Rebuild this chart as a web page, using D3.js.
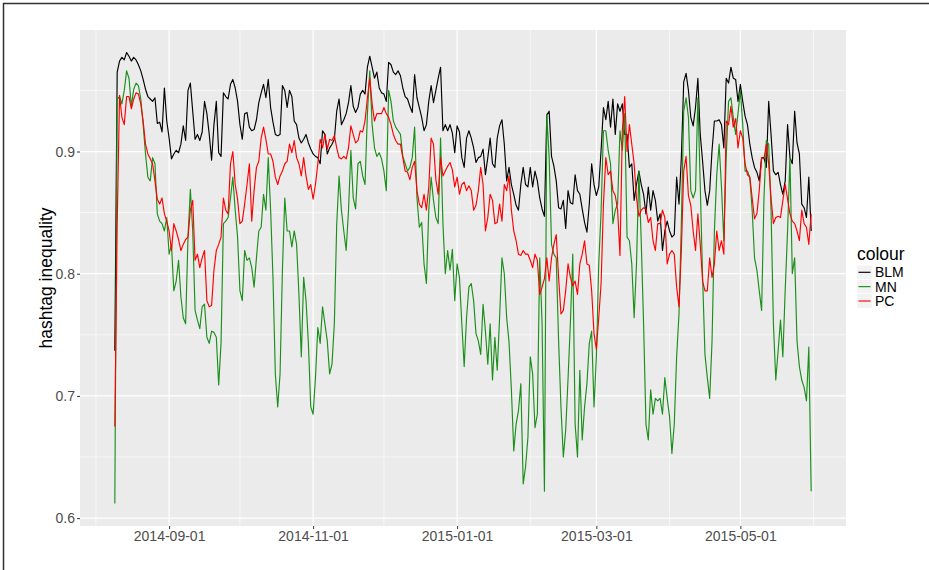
<!DOCTYPE html>
<html>
<head>
<meta charset="utf-8">
<script src="https://cdn.jsdelivr.net/npm/d3@7"></script>
<style>
  body { margin: 0; background: #fff; }
  svg { display: block; font-family: "Liberation Sans", Arial, sans-serif; }
</style>
</head>
<body>
<div id="chart"></div>
<script>
// daily values, first day below
const startDay = "2014-08-09";
const seriesNames = ["BLM", "MN", "PC"];
const seriesColors = ["#000000", "#1a8f1a", "#ff0000"];

const blm = [
  0.737,0.965,0.974,0.977,0.975,0.981,0.978,0.974,0.977,0.975,
  0.971,0.966,0.959,0.951,0.945,0.943,0.941,0.944,0.923,0.924,
  0.916,0.952,0.925,0.911,0.894,0.898,0.901,0.899,0.906,0.921,
  0.909,0.950,0.956,0.933,0.910,0.914,0.909,0.916,0.941,0.931,
  0.914,0.893,0.922,0.941,0.899,0.896,0.948,0.945,0.943,0.955,
  0.959,0.952,0.941,0.922,0.910,0.931,0.932,0.920,0.917,0.918,
  0.926,0.940,0.948,0.955,0.944,0.959,0.936,0.924,0.914,0.913,
  0.914,0.954,0.950,0.936,0.950,0.945,0.925,0.922,0.911,0.907,
  0.910,0.914,0.907,0.902,0.898,0.896,0.895,0.890,0.917,0.914,
  0.898,0.903,0.906,0.910,0.933,0.943,0.922,0.926,0.931,0.940,
  0.954,0.937,0.932,0.936,0.947,0.950,0.947,0.969,0.978,0.969,
  0.960,0.965,0.952,0.948,0.947,0.941,0.973,0.971,0.965,0.963,
  0.966,0.962,0.952,0.945,0.943,0.937,0.932,0.963,0.944,0.936,
  0.928,0.917,0.922,0.941,0.954,0.940,0.950,0.960,0.969,0.917,
  0.922,0.917,0.922,0.915,0.899,0.921,0.916,0.895,0.887,0.911,
  0.917,0.911,0.903,0.891,0.895,0.896,0.902,0.881,0.895,0.911,
  0.890,0.887,0.911,0.921,0.926,0.906,0.876,0.887,0.873,0.865,
  0.856,0.852,0.873,0.887,0.873,0.871,0.887,0.871,0.884,0.876,
  0.862,0.853,0.847,0.930,0.933,0.896,0.888,0.876,0.854,0.853,
  0.860,0.837,0.868,0.858,0.857,0.881,0.868,0.865,0.853,0.842,
  0.834,0.857,0.890,0.873,0.864,0.871,0.901,0.936,0.926,0.941,
  0.920,0.943,0.914,0.939,0.933,0.939,0.914,0.914,0.887,0.890,
  0.860,0.873,0.884,0.873,0.865,0.849,0.871,0.852,0.868,0.860,
  0.843,0.849,0.819,0.835,0.843,0.835,0.830,0.832,0.879,0.857,
  0.895,0.957,0.964,0.950,0.928,0.921,0.936,0.960,0.914,0.892,
  0.868,0.856,0.868,0.901,0.925,0.925,0.926,0.922,0.903,0.960,
  0.956,0.969,0.960,0.959,0.941,0.955,0.941,0.929,0.922,0.906,
  0.895,0.887,0.883,0.876,0.895,0.895,0.887,0.941,0.914,0.884,
  0.881,0.883,0.873,0.865,0.876,0.922,0.895,0.890,0.933,0.907,
  0.898,0.857,0.854,0.846,0.879,0.835
];

const mn = [
  0.612,0.943,0.945,0.939,0.950,0.966,0.960,0.937,0.951,0.956,
  0.954,0.943,0.922,0.898,0.879,0.876,0.895,0.890,0.849,0.843,
  0.841,0.835,0.846,0.816,0.824,0.786,0.794,0.811,0.781,0.764,
  0.759,0.830,0.869,0.835,0.770,0.762,0.755,0.773,0.775,0.748,
  0.743,0.753,0.752,0.748,0.709,0.743,0.841,0.843,0.846,0.862,
  0.879,0.852,0.830,0.786,0.778,0.819,0.811,0.813,0.805,0.789,
  0.813,0.835,0.838,0.865,0.852,0.895,0.852,0.797,0.718,0.691,
  0.718,0.803,0.862,0.835,0.835,0.822,0.835,0.824,0.783,0.732,
  0.797,0.778,0.743,0.691,0.685,0.715,0.756,0.743,0.773,0.759,
  0.745,0.718,0.726,0.759,0.840,0.880,0.852,0.835,0.819,0.852,
  0.901,0.862,0.853,0.890,0.892,0.880,0.873,0.931,0.966,0.922,
  0.903,0.896,0.899,0.894,0.884,0.868,0.950,0.941,0.925,0.920,
  0.917,0.914,0.896,0.890,0.884,0.887,0.895,0.920,0.862,0.838,
  0.842,0.808,0.792,0.852,0.879,0.860,0.846,0.841,0.911,0.841,
  0.800,0.819,0.803,0.820,0.778,0.808,0.797,0.759,0.724,0.764,
  0.789,0.792,0.778,0.751,0.745,0.734,0.775,0.753,0.726,0.759,
  0.713,0.748,0.721,0.764,0.813,0.800,0.764,0.744,0.705,0.655,
  0.677,0.688,0.710,0.628,0.642,0.666,0.732,0.718,0.674,0.685,
  0.813,0.759,0.622,0.930,0.895,0.824,0.816,0.813,0.745,0.691,
  0.650,0.672,0.714,0.760,0.816,0.677,0.650,0.721,0.664,0.691,
  0.710,0.743,0.753,0.691,0.732,0.808,0.851,0.917,0.917,0.901,
  0.890,0.841,0.852,0.857,0.917,0.901,0.931,0.830,0.827,0.808,
  0.764,0.808,0.884,0.827,0.759,0.677,0.664,0.705,0.685,0.698,
  0.696,0.698,0.685,0.715,0.698,0.683,0.653,0.677,0.732,0.767,
  0.841,0.933,0.944,0.928,0.868,0.862,0.868,0.944,0.873,0.797,
  0.734,0.715,0.698,0.745,0.835,0.881,0.906,0.871,0.827,0.895,
  0.941,0.944,0.928,0.914,0.931,0.950,0.922,0.884,0.884,0.879,
  0.852,0.813,0.803,0.786,0.770,0.862,0.909,0.906,0.852,0.759,
  0.713,0.737,0.762,0.732,0.787,0.835,0.895,0.800,0.813,0.745,
  0.724,0.713,0.707,0.696,0.740,0.622
];

const pc = [
  0.675,0.840,0.946,0.928,0.922,0.945,0.945,0.935,0.943,0.948,
  0.947,0.939,0.925,0.906,0.898,0.894,0.890,0.876,0.861,0.857,
  0.862,0.849,0.843,0.835,0.819,0.841,0.835,0.828,0.819,0.824,
  0.828,0.830,0.852,0.860,0.811,0.816,0.805,0.813,0.819,0.778,
  0.773,0.774,0.803,0.819,0.824,0.830,0.862,0.852,0.849,0.890,
  0.900,0.873,0.861,0.841,0.843,0.857,0.873,0.890,0.843,0.868,
  0.887,0.892,0.911,0.920,0.910,0.898,0.898,0.892,0.879,0.873,
  0.880,0.884,0.890,0.892,0.906,0.899,0.909,0.895,0.890,0.880,
  0.895,0.880,0.869,0.873,0.861,0.873,0.890,0.910,0.903,0.914,
  0.902,0.910,0.909,0.913,0.903,0.895,0.894,0.896,0.894,0.903,
  0.921,0.914,0.907,0.909,0.917,0.916,0.925,0.944,0.960,0.939,
  0.925,0.931,0.931,0.931,0.936,0.931,0.928,0.922,0.914,0.909,
  0.906,0.906,0.895,0.884,0.883,0.877,0.887,0.892,0.868,0.857,
  0.854,0.865,0.852,0.871,0.911,0.906,0.877,0.865,0.895,0.880,
  0.884,0.888,0.891,0.885,0.871,0.879,0.865,0.873,0.875,0.868,
  0.872,0.868,0.852,0.856,0.868,0.887,0.873,0.835,0.846,0.865,
  0.860,0.841,0.842,0.857,0.843,0.873,0.868,0.880,0.852,0.835,
  0.827,0.816,0.815,0.819,0.816,0.816,0.811,0.805,0.816,0.811,
  0.783,0.789,0.796,0.813,0.794,0.813,0.824,0.832,0.797,0.767,
  0.770,0.786,0.808,0.797,0.790,0.794,0.783,0.808,0.816,0.827,
  0.808,0.807,0.786,0.751,0.738,0.764,0.792,0.857,0.895,0.881,
  0.884,0.868,0.864,0.852,0.815,0.917,0.945,0.900,0.922,0.906,
  0.890,0.862,0.847,0.852,0.854,0.853,0.842,0.846,0.827,0.819,
  0.841,0.841,0.852,0.846,0.808,0.816,0.819,0.816,0.789,0.773,
  0.819,0.884,0.896,0.864,0.856,0.835,0.819,0.849,0.824,0.794,
  0.786,0.786,0.813,0.797,0.808,0.835,0.819,0.827,0.816,0.925,
  0.922,0.937,0.920,0.927,0.903,0.917,0.911,0.890,0.881,0.879,
  0.862,0.845,0.849,0.868,0.895,0.894,0.906,0.890,0.862,0.841,
  0.846,0.847,0.846,0.860,0.873,0.861,0.849,0.843,0.841,0.835,
  0.827,0.852,0.841,0.838,0.824,0.849
];

const xTickLabels = ["2014-09-01", "2014-11-01", "2015-01-01", "2015-03-01", "2015-05-01"];
const xMinorBreaks = ["2014-08-01", "2014-10-01", "2014-12-01", "2015-02-01", "2015-04-01", "2015-06-01"];
const yTicks = [0.6, 0.7, 0.8, 0.9];
const yMinorBreaks = [0.65, 0.75, 0.85, 0.95];

(function() {
  const W = 929, H = 570;
  const panel = {left: 80, top: 30, right: 846, bottom: 526};
  const pw = panel.right - panel.left,
        ph = panel.bottom - panel.top;

  const parse = d3.timeParse("%Y-%m-%d");
  const t0 = parse(startDay);
  const dates = blm.map((_, i) => d3.timeDay.offset(t0, i));

  // ggplot style 5% expansion
  const xExt = d3.extent(dates);
  const xPad = (xExt[1] - xExt[0]) * 0.05;
  const x = d3.scaleTime()
    .domain([new Date(+xExt[0] - xPad), new Date(+xExt[1] + xPad)])
    .range([0, pw]);

  const yExt = d3.extent(blm.concat(mn, pc));
  const yPad = (yExt[1] - yExt[0]) * 0.05;
  const y = d3.scaleLinear()
    .domain([yExt[0] - yPad, yExt[1] + yPad])
    .range([ph, 0]);

  const svg = d3.select("#chart").append("svg")
    .attr("width", W)
    .attr("height", H);

  svg.append("rect").attr("width", W).attr("height", H).attr("fill", "#fff");

  // outer frame (top and left only)
  svg.append("path")
    .attr("d", `M3.5,${H} V3.5 H${W}`)
    .attr("fill", "none")
    .attr("stroke", "#333")
    .attr("stroke-width", 1.5);

  const g = svg.append("g")
    .attr("transform", `translate(${panel.left},${panel.top})`);

  g.append("rect")
    .attr("width", pw)
    .attr("height", ph)
    .attr("fill", "#ebebeb");

  // grid
  g.selectAll(".ygrid-minor")
    .data(yMinorBreaks)
    .enter().append("line")
      .attr("x1", 0).attr("x2", pw)
      .attr("y1", d => y(d)).attr("y2", d => y(d))
      .attr("stroke", "#fff").attr("stroke-width", 0.6);

  g.selectAll(".xgrid-minor")
    .data(xMinorBreaks.map(parse))
    .enter().append("line")
      .attr("x1", d => x(d)).attr("x2", d => x(d))
      .attr("y1", 0).attr("y2", ph)
      .attr("stroke", "#fff").attr("stroke-width", 0.6);

  g.selectAll(".ygrid")
    .data(yTicks)
    .enter().append("line")
      .attr("x1", 0).attr("x2", pw)
      .attr("y1", d => y(d)).attr("y2", d => y(d))
      .attr("stroke", "#fff").attr("stroke-width", 1.2);

  g.selectAll(".xgrid")
    .data(xTickLabels.map(parse))
    .enter().append("line")
      .attr("x1", d => x(d)).attr("x2", d => x(d))
      .attr("y1", 0).attr("y2", ph)
      .attr("stroke", "#fff").attr("stroke-width", 1.2);

  // series
  const lineGen = d3.line()
    .x((d, i) => x(dates[i]))
    .y(d => y(d));

  [blm, mn, pc].forEach((vals, k) => {
    g.append("path")
      .datum(vals)
      .attr("fill", "none")
      .attr("stroke", seriesColors[k])
      .attr("stroke-width", 1.15)
      .attr("stroke-linejoin", "round")
      .attr("d", lineGen);
  });

  // axes
  const xAxis = g.append("g")
    .attr("transform", `translate(0,${ph})`)
    .call(d3.axisBottom(x)
      .tickValues(xTickLabels.map(parse))
      .tickFormat(d3.timeFormat("%Y-%m-%d"))
      .tickSize(3)
      .tickPadding(2));

  const yAxis = g.append("g")
    .call(d3.axisLeft(y)
      .tickValues(yTicks)
      .tickFormat(d3.format(".1f"))
      .tickSize(3)
      .tickPadding(2));

  [xAxis, yAxis].forEach(a => {
    a.select(".domain").remove();
    a.selectAll(".tick line").attr("stroke", "#333");
    a.selectAll(".tick text")
      .attr("fill", "#4d4d4d")
      .style("font-size", "14px")
      .style("font-family", "'Liberation Sans', Arial, sans-serif");
  });

  svg.append("text")
    .attr("transform", `translate(52,${panel.top + ph / 2}) rotate(-90)`)
    .attr("text-anchor", "middle")
    .style("font-size", "17.5px")
    .attr("fill", "#000")
    .text("hashtag inequality");

  // legend
  const legend = svg.append("g").attr("transform", "translate(857,0)");

  legend.append("text")
    .attr("x", 0)
    .attr("y", 260)
    .style("font-size", "17.5px")
    .attr("fill", "#000")
    .text("colour");

  const rowY = d3.scalePoint()
    .domain(seriesNames)
    .range([272.3, 301]);

  const items = legend.selectAll(".item")
    .data(seriesNames)
    .enter().append("g")
      .attr("transform", d => `translate(0,${rowY(d)})`);

  items.append("rect")
    .attr("x", 0).attr("y", -7.2)
    .attr("width", 15).attr("height", 14.4)
    .attr("fill", "#f2f2f2")
    .attr("stroke", "#fff")
    .attr("stroke-width", 0.5);

  items.append("line")
    .attr("x1", 1.5).attr("x2", 13.5)
    .attr("stroke", (d, i) => seriesColors[i])
    .attr("stroke-width", 1.15);

  items.append("text")
    .attr("x", 18)
    .attr("dy", "0.36em")
    .style("font-size", "14px")
    .attr("fill", "#000")
    .text(d => d);
})();
</script>
</body>
</html>
